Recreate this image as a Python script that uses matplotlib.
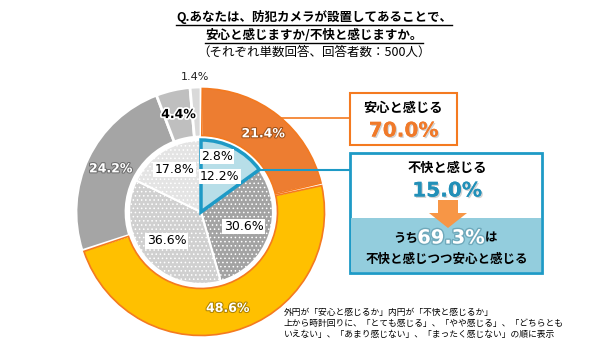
import numpy as np
import matplotlib.pyplot as plt
import matplotlib.patheffects as pe
from matplotlib.patches import Wedge, Rectangle, Polygon

plt.rcParams['font.family'] = ['Noto Sans CJK JP', 'DejaVu Sans']
plt.rcParams['hatch.linewidth'] = 0.6

# outer ring: 安心と感じるか (clockwise from top)
outer_names = ['とても感じる', 'やや感じる', 'どちらともいえない', 'あまり感じない', 'まったく感じない']
outer_vals = [21.4, 48.6, 24.2, 4.4, 1.4]
outer_colors = ['#ED7D31', '#FFC000', '#A5A5A5', '#BFBFBF', '#D9D9D9']

# inner pie: 不快と感じるか (clockwise from top)
inner_vals = [2.8, 12.2, 30.6, 36.6, 17.8]
inner_colors = ['#B7DEE8', '#B7DEE8', '#A3A3A3', '#D0D0D0', '#E4E4E4']

anshin_total = '70.0%'
fukai_total = '15.0%'
both_share = '69.3%'

title_lines = ['Q.あなたは、防犯カメラが設置してあることで、',
               '安心と感じますか/不快と感じますか。',
               '（それぞれ単数回答、回答者数：500人）']
note_lines = ['外円が「安心と感じるか」内円が「不快と感じるか」',
              '上から時計回りに、「とても感じる」、「やや感じる」、「どちらとも',
              'いえない」、「あまり感じない」、「まったく感じない」の順に表示']

ORANGE = '#F47A20'
BLUE = '#1E9AC6'


def main():
    fig = plt.figure(figsize=(6, 3.5), dpi=100)
    ax = fig.add_axes([0, 0, 1, 1])

    cx, cy = 201, 212
    r_out, w_out, r_in = 125, 50, 72

    # y axis is inverted below, so counterclock=True draws clockwise on screen
    wo, _ = ax.pie(outer_vals, colors=outer_colors, radius=r_out, center=(cx, cy),
                   startangle=-90, counterclock=True,
                   wedgeprops=dict(width=w_out, edgecolor='white', linewidth=2))
    # orange border on the "安心" wedges
    for w in wo[:2]:
        ax.add_patch(Wedge((cx, cy), r_out - 1.5, w.theta1 + 0.6, w.theta2 - 0.6,
                           width=w_out - 3, fill=False, ec=ORANGE, lw=1.2))

    wi, _ = ax.pie(inner_vals, colors=inner_colors, radius=r_in, center=(cx, cy),
                   startangle=-90, counterclock=True,
                   wedgeprops=dict(edgecolor='white', linewidth=1.5))
    for w in wi[:2]:
        w.set_edgecolor(inner_colors[0])
    for w in wi[2:]:
        w.set_hatch('....')
    # blue outline round the "不快" part
    fukai_end = -90 + 3.6 * (inner_vals[0] + inner_vals[1])
    ax.add_patch(Wedge((cx, cy), r_in, -90, fukai_end, fill=False, ec=BLUE, lw=2.5))

    ax.set_xlim(0, 600)
    ax.set_ylim(350, 0)
    ax.set_axis_off()

    # outer labels
    shade = ['#a0521a', '#b08400', '#6e6e6e']
    cum = np.cumsum([0] + outer_vals)
    for i, v in enumerate(outer_vals):
        a = np.deg2rad(-90 + 3.6 * (cum[i] + cum[i + 1]) / 2)
        if i < 3:
            r = 100
            kw = dict(color='white', fontweight='bold', fontsize=9,
                      path_effects=[pe.withStroke(linewidth=1.5, foreground=shade[i])])
        elif i == 3:
            r = 100
            kw = dict(color='black', fontweight='bold', fontsize=9,
                      path_effects=[pe.withStroke(linewidth=2.5, foreground='white')])
        else:
            r = 135
            kw = dict(color='#222222', fontsize=8)
        ax.text(cx + r * np.cos(a), cy + r * np.sin(a), f'{v}%',
                ha='center', va='center', family='DejaVu Sans', **kw)

    # inner labels
    cum = np.cumsum([0] + inner_vals)
    pos = [(0.045, 58), (0.078, 40), (None, 45), (None, 45), (None, 50)]
    for i, v in enumerate(inner_vals):
        f, r = pos[i]
        if f is None:
            f = (cum[i] + cum[i + 1]) / 200
        a = np.deg2rad(-90 + 360 * f)
        ax.text(cx + r * np.cos(a), cy + r * np.sin(a), f'{v}%',
                ha='center', va='center', fontsize=9, family='DejaVu Sans',
                bbox=dict(boxstyle='square,pad=0.1', fc='white', ec='none'))

    # connector lines
    ly = 118
    a_tip = np.deg2rad(fukai_end)
    ax.plot([cx + np.sqrt(r_out ** 2 - (cy - ly) ** 2) - 2, 350], [ly, ly], color=ORANGE, lw=1.2)
    ax.plot([cx + r_in * np.cos(a_tip), 350], [cy + r_in * np.sin(a_tip)] * 2, color=BLUE, lw=1.5)

    shadow = [pe.withSimplePatchShadow(offset=(1, -1), shadow_rgbFace='#c8c8c8', alpha=0.8),
              pe.Normal()]

    # 安心 box
    ax.add_patch(Rectangle((350, 93), 107, 52, fc='white', ec=ORANGE, lw=1.5))
    ax.text(403.5, 108, '安心と感じる', ha='center', va='center', fontsize=9.5, fontweight='bold')
    ax.text(403.5, 131, anshin_total, ha='center', va='center', fontsize=14.5, fontweight='bold',
            color='#F07A2A', family='DejaVu Sans', path_effects=shadow)

    # 不快 box
    ax.add_patch(Rectangle((350, 153), 192, 120, fc='white', ec=BLUE, lw=2, zorder=2))
    ax.add_patch(Rectangle((351, 218), 190, 54, fc='#93CDDD', ec='none', zorder=2))
    ax.text(447, 168, '不快と感じる', ha='center', va='center', fontsize=9.5, fontweight='bold', zorder=3)
    ax.text(447, 191, fukai_total, ha='center', va='center', fontsize=14.5, fontweight='bold',
            color='#2290B8', family='DejaVu Sans', zorder=3, path_effects=shadow)
    ax.add_patch(Polygon([(438, 200), (458, 200), (458, 213), (467, 213), (448, 228),
                          (429, 213), (438, 213)], closed=True, fc='#F79646', ec='none', zorder=3))
    ax.text(418, 238, 'うち', ha='right', va='center', fontsize=9, fontweight='bold', zorder=3)
    ax.text(451, 238, both_share, ha='center', va='center', fontsize=14, fontweight='bold',
            color='white', family='DejaVu Sans', zorder=3,
            path_effects=[pe.withStroke(linewidth=2, foreground='#6fa9bb')])
    ax.text(485, 238, 'は', ha='left', va='center', fontsize=9, fontweight='bold', zorder=3)
    ax.text(447, 259, '不快と感じつつ安心と感じる', ha='center', va='center', fontsize=9,
            fontweight='bold', zorder=3)

    # title
    tys = [17, 35, 52]
    ts = []
    for k, (line, ty) in enumerate(zip(title_lines, tys)):
        ts.append(ax.text(314, ty, line, ha='center', va='center', fontsize=9,
                          fontweight='bold' if k < 2 else 'normal'))
    fig.canvas.draw()
    inv = ax.transData.inverted()
    for t, ty in zip(ts[:2], tys[:2]):
        bb = t.get_window_extent()
        x0 = inv.transform((bb.x0, 0))[0]
        x1 = inv.transform((bb.x1, 0))[0]
        ax.plot([x0, x1], [ty + 8, ty + 8], color='black', lw=1)

    # note
    for line, ny in zip(note_lines, [312, 323.5, 335]):
        ax.text(284, ny, line, ha='left', va='center', fontsize=6.3)

    fig.savefig('out.png', dpi=100)


if __name__ == '__main__':
    main()
